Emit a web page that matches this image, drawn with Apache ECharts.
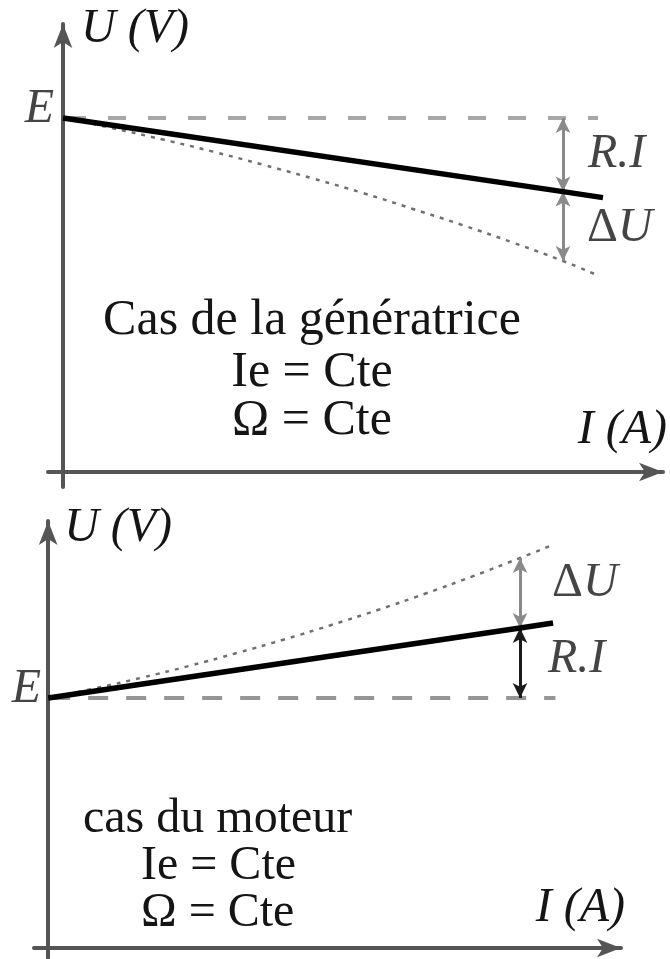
<!DOCTYPE html>
<html>
<head>
<meta charset="utf-8">
<script src="https://cdn.jsdelivr.net/npm/echarts@6/dist/echarts.min.js"></script>
<style>
  html, body { margin: 0; padding: 0; background: #ffffff; }
  #chart { width: 670px; height: 959px; }
</style>
</head>
<body>
<div id="chart"></div>
<script>
// ---- Génératrice (upper diagram): U(I) at constant excitation and speed ----
const genE = 10;
const genCurrent = [0, 10, 10.8];
const genVoltage = [10, 7.92, 7.75];
const genIdealCurrent = [0, 1, 2, 3, 4, 5, 6, 7, 8, 9, 10, 10.7];
const genIdealVoltage = [10, 9.71, 9.39, 9.05, 8.68, 8.29, 7.88, 7.43, 6.97, 6.48, 5.96, 5.55];
const genDashEnd = 10.7;
const genMarkCurrent = 10;

// ---- Moteur (lower diagram) ----
const motE = 10;
const motCurrent = [0, 10, 10.7];
const motVoltage = [10, 12.8, 13.0];
const motIdealCurrent = [0, 1, 2, 3, 4, 5, 6, 7, 8, 9, 10, 10.7];
const motIdealVoltage = [10, 10.39, 10.82, 11.29, 11.80, 12.34, 12.92, 13.53, 14.18, 14.87, 15.6, 16.13];
const motDashEnd = 10.75;
const motMarkCurrent = 10;

// ---- Texts ----
const axisNameU = 'U (V)';
const axisNameI = 'I (A)';
const genCaption = ['Cas de la génératrice', 'Ie = Cte', 'Ω = Cte'];
const motCaption = ['cas du moteur', 'Ie = Cte', 'Ω = Cte'];

const SERIF = '"Liberation Serif", "Times New Roman", serif';
const INK = '#151515';
const AXIS = '#555555';

function pairs(xs, ys) { return xs.map((x, i) => [x, ys[i]]); }
function valueAt(xs, ys, x) { return ys[xs.indexOf(x)]; }

function axisLine() {
  return {
    onZero: true,
    symbol: ['none', 'arrow'],
    symbolSize: [14, 24],
    lineStyle: { color: AXIS, width: 4 }
  };
}
function bareAxis(extra) {
  return Object.assign({
    type: 'value',
    axisLine: axisLine(),
    axisTick: { show: false },
    axisLabel: { show: false },
    splitLine: { show: false }
  }, extra);
}

const italicLabel = {
  show: true,
  fontFamily: SERIF,
  fontSize: 48,
  fontStyle: 'italic',
  color: INK,
  rich: {
    d: { fontFamily: SERIF, fontSize: 48, fontStyle: 'normal', color: INK },
    u: { fontFamily: SERIF, fontSize: 48, fontStyle: 'italic', color: INK }
  }
};

// values used by the arrows and their labels
const genSolidAtMark = valueAt(genCurrent, genVoltage, genMarkCurrent);
const genIdealAtMark = valueAt(genIdealCurrent, genIdealVoltage, genMarkCurrent);
const motSolidAtMark = valueAt(motCurrent, motVoltage, motMarkCurrent);
const motIdealAtMark = valueAt(motIdealCurrent, motIdealVoltage, motMarkCurrent);

function arrow(x, y1, y2, color) {
  return [
    { coord: [x, y1], lineStyle: { color: color, width: 3, type: 'solid' }, itemStyle: { color: color } },
    { coord: [x, y2] }
  ];
}

const option = {
  animation: false,
  backgroundColor: '#ffffff',
  grid: [
    { left: 48, right: 7, top: 24, bottom: 472, containLabel: false, outerBoundsMode: 'none' },
    { left: 34, right: 49, top: 521, bottom: 1, containLabel: false, outerBoundsMode: 'none' }
  ],
  xAxis: [
    bareAxis({ gridIndex: 0, min: -0.3, max: 12 }),
    bareAxis({ gridIndex: 1, min: -0.3, max: 12.14 })
  ],
  yAxis: [
    bareAxis({ gridIndex: 0, min: -0.4237, max: 12.655 }),
    bareAxis({ gridIndex: 1, min: -0.4, max: 17.08 })
  ],
  series: [
    // upper diagram
    {
      type: 'line', xAxisIndex: 0, yAxisIndex: 0, symbol: 'none', z: 2,
      data: [[0, genE], [genDashEnd, genE]],
      lineStyle: { color: '#a8a8a8', width: 4, type: [18, 22], dashOffset: 35 }
    },
    {
      type: 'line', xAxisIndex: 0, yAxisIndex: 0, symbol: 'none', smooth: true, z: 3,
      data: pairs(genIdealCurrent, genIdealVoltage),
      lineStyle: { color: '#707070', width: 2.5, type: [4, 6] }
    },
    {
      type: 'line', xAxisIndex: 0, yAxisIndex: 0, symbol: 'none', z: 5,
      data: pairs(genCurrent, genVoltage),
      lineStyle: { color: '#000000', width: 5.5 },
      markLine: {
        silent: true, symbol: ['arrow', 'arrow'], symbolSize: [11, 15],
        label: { show: false }, animation: false,
        data: [
          arrow(genMarkCurrent, genE, genSolidAtMark, '#8a8a8a'),
          arrow(genMarkCurrent, genSolidAtMark, genIdealAtMark, '#8a8a8a')
        ]
      }
    },
    {
      type: 'scatter', xAxisIndex: 0, yAxisIndex: 0, symbolSize: 0, z: 6, silent: true,
      label: italicLabel,
      data: [
        { value: [0, genE], label: { formatter: 'E', position: 'left', distance: 9, offset: [0, -9] } },
        { value: [genMarkCurrent, (genE + genSolidAtMark) / 2], label: { formatter: 'R.I', position: 'right', distance: 25, offset: [0, 0] } },
        { value: [genMarkCurrent, (genSolidAtMark + genIdealAtMark) / 2], label: { formatter: '{d|Δ}{u|U}', position: 'right', distance: 24, offset: [0, 2] } }
      ]
    },
    // lower diagram
    {
      type: 'line', xAxisIndex: 1, yAxisIndex: 1, symbol: 'none', z: 2,
      data: [[0, motE], [motDashEnd, motE]],
      lineStyle: { color: '#959595', width: 4, type: [20, 18], dashOffset: 36 }
    },
    {
      type: 'line', xAxisIndex: 1, yAxisIndex: 1, symbol: 'none', smooth: true, z: 3,
      data: pairs(motIdealCurrent, motIdealVoltage),
      lineStyle: { color: '#707070', width: 2.5, type: [4, 6] }
    },
    {
      type: 'line', xAxisIndex: 1, yAxisIndex: 1, symbol: 'none', z: 5,
      data: pairs(motCurrent, motVoltage),
      lineStyle: { color: '#000000', width: 5.5 },
      markLine: {
        silent: true, symbol: ['arrow', 'arrow'], symbolSize: [11, 15],
        label: { show: false }, animation: false,
        data: [
          arrow(motMarkCurrent, motIdealAtMark, motSolidAtMark, '#8a8a8a'),
          arrow(motMarkCurrent, motSolidAtMark, motE, '#1a1a1a')
        ]
      }
    },
    {
      type: 'scatter', xAxisIndex: 1, yAxisIndex: 1, symbolSize: 0, z: 6, silent: true,
      label: italicLabel,
      data: [
        { value: [0, motE], label: { formatter: 'E', position: 'left', distance: 7, offset: [0, -9] } },
        { value: [motMarkCurrent, (motIdealAtMark + motSolidAtMark) / 2], label: { formatter: '{d|Δ}{u|U}', position: 'right', distance: 32, offset: [0, -10] } },
        { value: [motMarkCurrent, (motSolidAtMark + motE) / 2], label: { formatter: 'R.I', position: 'right', distance: 28, offset: [0, -4] } }
      ]
    }
  ],
  graphic: []
};

function txt(text, x, y, font, align) {
  return {
    type: 'text', silent: true, z: 10,
    style: {
      text: text, x: x, y: y, font: font, fill: INK,
      align: align, textAlign: align,
      verticalAlign: 'middle', textVerticalAlign: 'middle'
    }
  };
}

chart = echarts.init(document.getElementById('chart'), null, { renderer: 'canvas' });
chart.setOption(option);

// axis titles and captions, anchored to the axes through the library's scales
const topOrigin = chart.convertToPixel({ gridIndex: 0 }, [0, 0]);
const botOrigin = chart.convertToPixel({ gridIndex: 1 }, [0, 0]);
const topXEnd = chart.convertToPixel({ xAxisIndex: 0 }, 12);
const botXEnd = chart.convertToPixel({ xAxisIndex: 1 }, 12.14);
const topYEnd = chart.convertToPixel({ yAxisIndex: 0 }, 12.655);
const botYEnd = chart.convertToPixel({ yAxisIndex: 1 }, 17.08);

const italic48 = 'italic 48px ' + SERIF;
const roman50 = '50px ' + SERIF;
const roman48 = '48px ' + SERIF;

const graphics = [
  txt(axisNameU, topOrigin[0] + 18, topYEnd + 5, italic48, 'left'),
  txt(axisNameI, topXEnd + 4, topOrigin[1] - 42, italic48, 'right'),
  txt(axisNameU, botOrigin[0] + 16, botYEnd + 7, italic48, 'left'),
  txt(axisNameI, botXEnd + 4, botOrigin[1] - 40, italic48, 'right'),
  txt(genCaption[0], 312, 321, roman50, 'center'),
  txt(genCaption[1], 312, 373, roman50, 'center'),
  txt(genCaption[2], 312, 421, roman50, 'center'),
  txt(motCaption[0], 83, 819, roman48, 'left'),
  txt(motCaption[1], 141, 866, roman48, 'left'),
  txt(motCaption[2], 141, 913, roman48, 'left')
];
chart.setOption({ graphic: graphics });
</script>
</body>
</html>
